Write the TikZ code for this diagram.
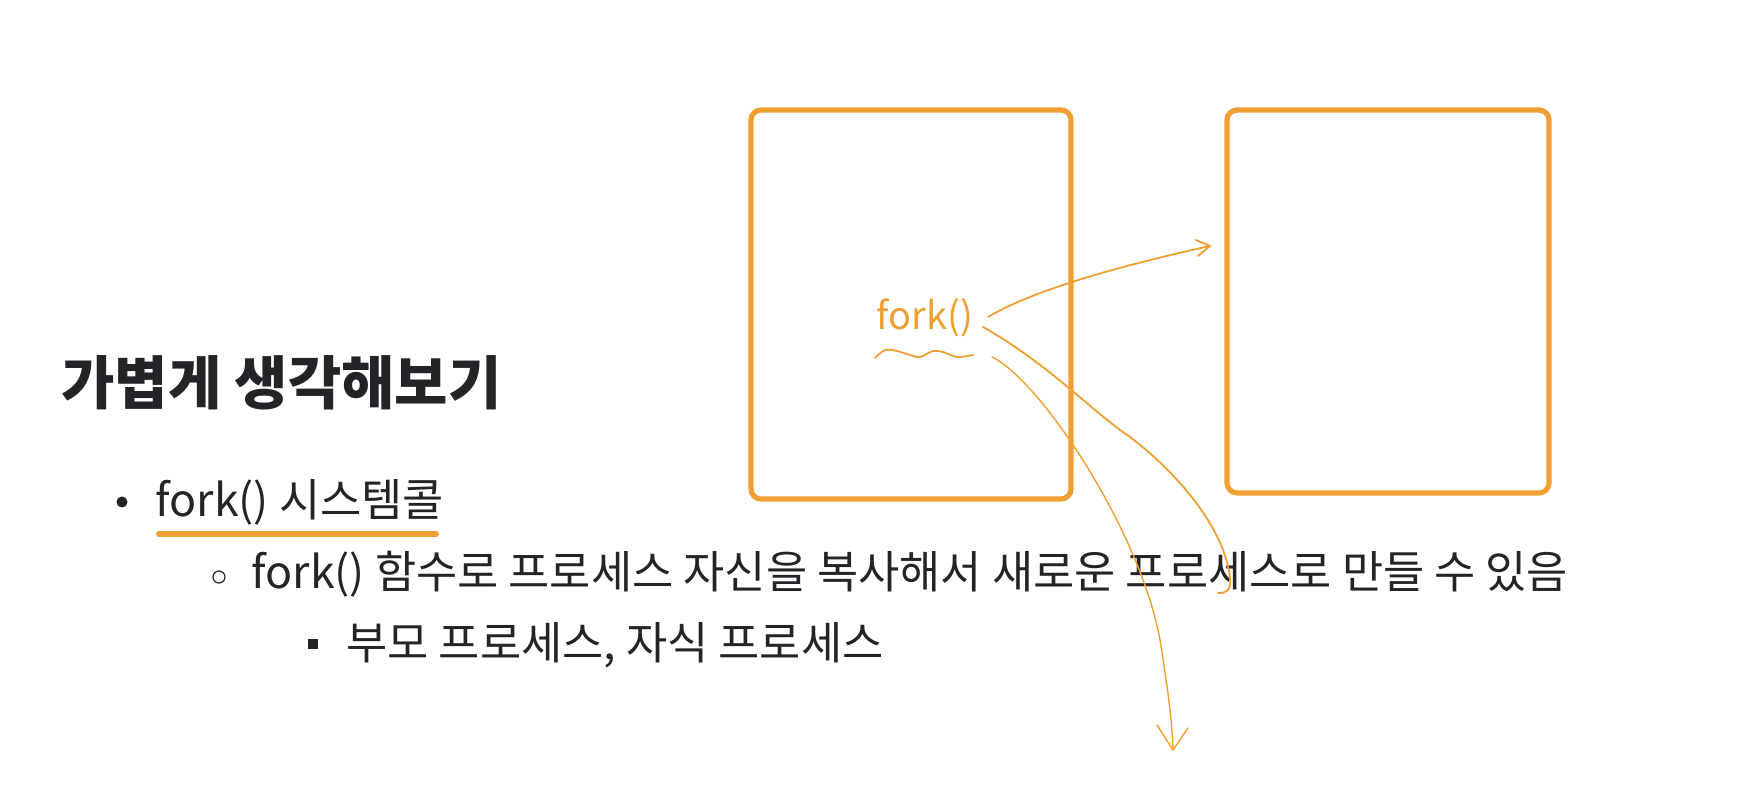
\documentclass[tikz,border=0pt]{standalone}
\usepackage{fontspec}
\setmainfont{Noto Sans CJK KR}
\usetikzlibrary{arrows.meta}
\definecolor{ink}{RGB}{34,36,40}
\definecolor{pen}{RGB}{240,160,50}
\tikzset{
  procbox/.style={draw=pen, line width=2.6pt, rounded corners=5pt},
  hand/.style={draw=pen, line width=0.9pt, line cap=round, line join=round},
  slidetext/.style={text=ink, inner sep=0pt, anchor=west, font=\fontsize{22.4}{26}\selectfont},
}
\begin{document}
\begin{tikzpicture}[x=0.5pt, y=-0.5pt]
\useasboundingbox (0,0) rectangle (1740,806);
% boxes
\node[procbox, minimum width=320*0.5pt, minimum height=389*0.5pt, inner sep=0pt] (parent) at (911,304.5) {};
\node[procbox, minimum width=322*0.5pt, minimum height=383*0.5pt, inner sep=0pt] (child) at (1388,301.5) {};
% texts
\node[slidetext, font=\fontsize{29}{34}\selectfont\bfseries] (title) at (61,383) {가볍게 생각해보기};
\fill[ink] (122,502) circle (5.5);
\node[slidetext] (b1) at (155,502) {fork() 시스템콜};
\draw[pen, line width=3pt, line cap=round] (159,534) -- (436,534);
\draw[ink, line width=0.6pt] (219,577) circle (6);
\node[slidetext] (b2) at (251,574) {fork() 함수로 프로세스 자신을 복사해서 새로운 프로세스로 만들 수 있음};
\fill[ink] (308,639) rectangle (318,649);
\node[slidetext] (b3) at (346,645) {부모 프로세스, 자식 프로세스};
% handwriting
\node[text=pen, inner sep=0pt, font=\fontsize{19}{22}\selectfont] (fork) at (925,318) {fork()};
\draw[hand] plot[smooth] coordinates {(875,358) (885,350) (897,351) (910,355) (920,357) (933,351) (943,352) (957,357) (973,355)};
\coordinate (s1) at (988,317);
\coordinate (e1) at (1210,246);
\coordinate (s2) at (983,327);
\coordinate (s3) at (992,357);
\coordinate (e3) at (1173,750);
\draw[hand] (s1) .. controls (1030,292) and (1110,268) .. (e1);
\draw[hand] (1196,240) -- (e1) -- (1198,256);
\draw[hand] (s2) .. controls (1050,365) and (1090,410) .. (1130,437) .. controls (1180,475) and (1225,530) .. (1230,578) .. controls (1232,590) and (1225,594) .. (1218,593);
\draw[hand, line width=0.7pt] (s3) .. controls (1040,380) and (1140,530) .. (1160,640) .. controls (1168,690) and (1172,720) .. (e3);
\draw[hand, line width=0.7pt] (1157,725) -- (e3) -- (1188,728);
\end{tikzpicture}
\end{document}
